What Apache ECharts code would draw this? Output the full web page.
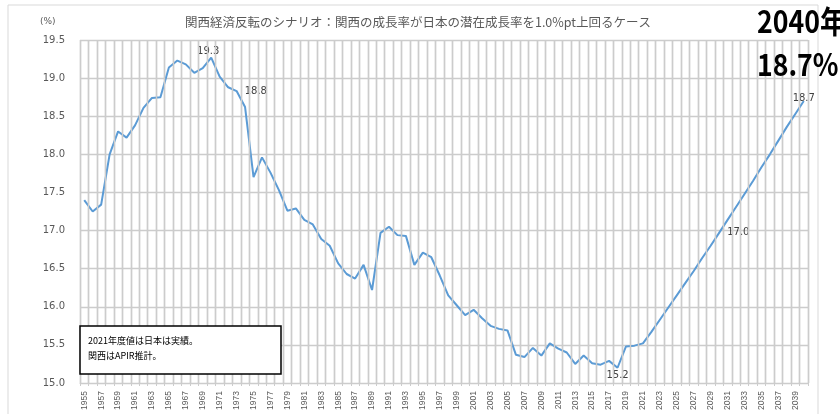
<!DOCTYPE html>
<html>
<head>
<meta charset="utf-8">
<script src="https://cdn.jsdelivr.net/npm/echarts@6/dist/echarts.min.js"></script>
<style>
  html, body { margin: 0; padding: 0; background: #fff; }
  #main { width: 840px; height: 414px; }
</style>
</head>
<body>
<div id="main"></div>
<script>
// 年度（1955〜2040）
const years = [
  '1955','1956','1957','1958','1959','1960','1961','1962','1963','1964',
  '1965','1966','1967','1968','1969','1970','1971','1972','1973','1974',
  '1975','1976','1977','1978','1979','1980','1981','1982','1983','1984',
  '1985','1986','1987','1988','1989','1990','1991','1992','1993','1994',
  '1995','1996','1997','1998','1999','2000','2001','2002','2003','2004',
  '2005','2006','2007','2008','2009','2010','2011','2012','2013','2014',
  '2015','2016','2017','2018','2019','2020','2021','2022','2023','2024',
  '2025','2026','2027','2028','2029','2030','2031','2032','2033','2034',
  '2035','2036','2037','2038','2039','2040'
]

// 関西のシェア 実績（1955〜2021）
const actual = [
  17.40, 17.25, 17.34, 18.00, 18.30, 18.22, 18.38, 18.61, 18.74, 18.75,
  19.14, 19.23, 19.18, 19.07, 19.13, 19.27, 19.02, 18.88, 18.83, 18.62,
  17.70, 17.96, 17.76, 17.53, 17.26, 17.29, 17.14, 17.08, 16.89, 16.80,
  16.57, 16.43, 16.37, 16.55, 16.22, 16.97, 17.05, 16.94, 16.93, 16.55,
  16.71, 16.65, 16.41, 16.15, 16.02, 15.89, 15.96, 15.85, 15.75, 15.71,
  15.69, 15.37, 15.34, 15.46, 15.36, 15.52, 15.45, 15.40, 15.25, 15.36,
  15.26, 15.24, 15.29, 15.20, 15.48, 15.49, 15.52
]

// シナリオ（2022〜2040）
const scenario = [
  15.67, 15.83, 15.99, 16.15, 16.31, 16.47, 16.64, 16.80, 16.97, 17.14,
  17.31, 17.48, 17.65, 17.83, 18.00, 18.18, 18.36, 18.53, 18.70
]

const share = actual.concat(scenario)

// y軸
const yMin = 15.0
const yMax = 19.5
const yStep = 0.5

// 値ラベルを付ける年
const labelYears = ['1970', '1973', '2018', '2030', '2040']
const labelPlace = {
  '1970': { position: 'top', distance: 1, offset: [-3, 0] },
  '1973': { position: 'right', distance: 8 },
  '2018': { position: 'bottom', distance: 3 },
  '2030': { position: 'right', distance: 8 },
  '2040': { position: 'top', distance: -2 }
}

const grid = '#cccccc'
const textGray = '#595959'

const chart = echarts.init(document.getElementById('main'))

const seriesData = share.map((v, i) => {
  const y = years[i]
  if (labelYears.indexOf(y) < 0) return v
  return {
    value: v,
    label: Object.assign({
      show: true,
      formatter: p => p.value.toFixed(1),
      color: '#404040',
      fontFamily: 'DejaVu Sans',
      fontSize: 10
    }, labelPlace[y])
  }
})

// 年の境界ごとの縦線（補助の数値軸の 0..年数）
const boundaries = years.map((y, i) => ({ xAxis: i })).concat([{ xAxis: years.length }])

chart.setOption({
  animation: false,
  backgroundColor: '#fff',
  title: {
    text: '関西経済反転のシナリオ：関西の成長率が日本の潜在成長率を1.0%pt上回るケース',
    left: 413,
    top: 11,
    textAlign: 'center',
    textStyle: {
      fontFamily: 'Noto Sans CJK JP',
      fontSize: 12.5,
      fontWeight: 'normal',
      color: textGray
    }
  },
  grid: { left: 80, right: 32, top: 40, bottom: 31 },
  xAxis: [
    {
      type: 'category',
      data: years,
      boundaryGap: true,
      axisLine: { show: true, lineStyle: { color: grid } },
      axisTick: { show: true, interval: 0, length: 3, lineStyle: { color: grid } },
      splitLine: { show: true, interval: 0, lineStyle: { color: grid, width: 1.4 } },
      axisLabel: {
        interval: 1,
        hideOverlap: false,
        rotate: 90,
        margin: 8,
        color: textGray,
        fontFamily: 'Liberation Sans',
        fontSize: 8.5
      }
    },
    {
      type: 'value',
      position: 'bottom',
      min: 0,
      max: years.length,
      show: false
    }
  ],
  yAxis: {
    type: 'value',
    min: yMin,
    max: yMax,
    interval: yStep,
    axisLine: { show: false },
    axisTick: { show: false },
    splitLine: { lineStyle: { color: grid, width: 1.4 } },
    axisLabel: {
      margin: 15,
      color: textGray,
      fontFamily: 'DejaVu Sans',
      fontSize: 10,
      formatter: v => v.toFixed(1)
    }
  },
  series: [
    {
      type: 'line',
      xAxisIndex: 1,
      data: [[0, yMin]],
      showSymbol: false,
      lineStyle: { opacity: 0 },
      silent: true,
      z: 1,
      markLine: {
        silent: true,
        symbol: ['none', 'none'],
        label: { show: false },
        lineStyle: { color: grid, width: 1.4, type: 'solid', opacity: 1 },
        emphasis: { disabled: true },
        data: boundaries
      }
    },
    {
      type: 'line',
      xAxisIndex: 0,
      data: seriesData,
      showSymbol: true,
      showAllSymbol: true,
      symbol: 'circle',
      symbolSize: 0.1,
      lineStyle: { color: '#5b9bd5', width: 2 },
      itemStyle: { color: '#5b9bd5' },
      z: 3
    }
  ],
  graphic: [
    {
      type: 'rect',
      shape: { x: 8, y: 5, width: 810, height: 430 },
      style: { fill: 'none', stroke: '#d9d9d9', lineWidth: 1 },
      silent: true,
      z: -1
    },
    {
      type: 'text',
      x: 40, y: 17,
      style: {
        text: '(%)',
        fill: textGray,
        font: '9px "DejaVu Sans"'
      }
    },
    {
      type: 'rect',
      shape: { x: 80, y: 326, width: 201, height: 48 },
      style: { fill: '#fff', stroke: '#000', lineWidth: 1.5 },
      z: 10
    },
    {
      type: 'text',
      x: 88, y: 333,
      style: {
        text: '2021年度値は日本は実績。\n関西はAPIR推計。',
        fill: '#000',
        font: '9px "Noto Sans CJK JP"',
        lineHeight: 15
      },
      z: 11
    },
    {
      type: 'text',
      x: 757, y: 6,
      scaleX: 0.86,
      style: {
        text: '2040年',
        fill: '#000',
        font: 'bold 31px "Noto Sans CJK JP"'
      },
      z: 20
    },
    {
      type: 'text',
      x: 757, y: 49,
      scaleX: 0.86,
      style: {
        text: '18.7%',
        fill: '#000',
        font: 'bold 31px "Noto Sans CJK JP"'
      },
      z: 20
    }
  ]
})
</script>
</body>
</html>
